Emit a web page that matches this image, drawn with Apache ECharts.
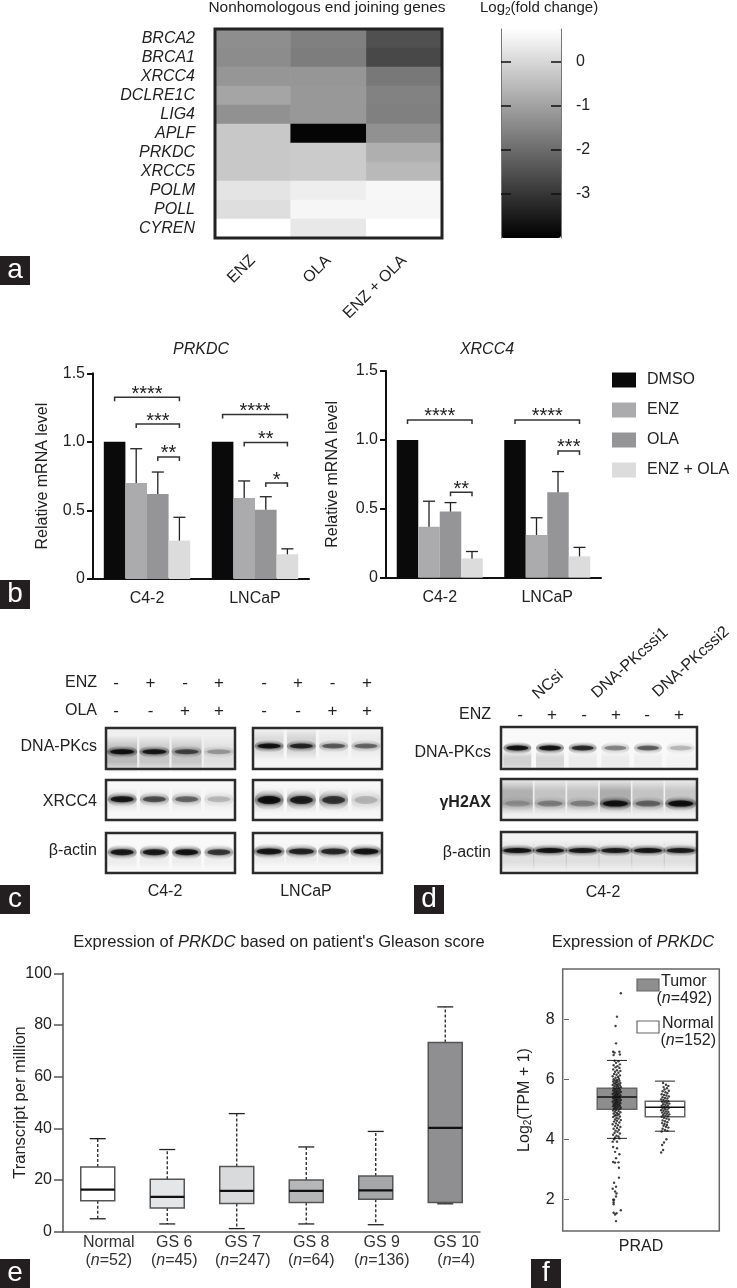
<!DOCTYPE html>
<html><head><meta charset="utf-8">
<style>html,body{margin:0;padding:0;background:#fff}#c{width:737px;height:1288px}</style>
<script src="https://cdn.jsdelivr.net/npm/echarts@6/dist/echarts.min.js"></script>
</head><body><div id="c"></div>
<script>
// ---------- panel a ----------
const nhejGenes = ['BRCA2','BRCA1','XRCC4','DCLRE1C','LIG4','APLF','PRKDC','XRCC5','POLM','POLL','CYREN'];
const nhejTreatments = ['ENZ','OLA','ENZ + OLA'];
const foldEnz = [-1.35,-1.39,-1.21,-0.93,-1.30,-0.27,-0.27,-0.27,0.25,0.14,0.75];
const foldOla = [-1.62,-1.67,-1.21,-1.17,-1.17,-3.91,-0.22,-0.22,0.43,0.58,0.32];
const foldEnzOla = [-2.51,-2.66,-1.76,-1.58,-1.62,-1.30,-0.74,-0.55,0.60,0.58,0.75];
const colorbarTicks = [0,-1,-2,-3];
// ---------- panel b ----------
const cellLines = ['C4-2','LNCaP'];
const treatments = ['DMSO','ENZ','OLA','ENZ + OLA'];
const prkdcMeans = [[1,1],[0.70,0.59],[0.62,0.505],[0.28,0.18]];
const prkdcErrTop = [[null,null],[0.95,0.715],[0.78,0.60],[0.45,0.22]];
const xrcc4Means = [[1,1],[0.37,0.31],[0.48,0.62],[0.14,0.155]];
const xrcc4ErrTop = [[null,null],[0.555,0.435],[0.545,0.77],[0.19,0.22]];
// cell line, first bar, last bar, bracket level, stars
const prkdcSig = [[0,0,3,1.325,'****'],[0,1,3,1.13,'***'],[0,2,3,0.89,'**'],[1,0,3,1.20,'****'],[1,1,3,0.995,'**'],[1,2,3,0.70,'*']];
const xrcc4Sig = [[0,0,3,1.145,'****'],[0,2,3,0.62,'**'],[1,0,3,1.145,'****'],[1,2,3,0.92,'***']];
// ---------- panels c, d (band densities read from the blots) ----------
const cDnaPk42 = [0.98,0.9,0.62,0.28], cDnaPk42Haze = [0.34,0.26,0.26,0.1];
const cXrcc442 = [0.92,0.6,0.5,0.2], cXrcc442Haze = [0.12,0.08,0.07,0.05];
const cActin42 = [0.9,0.9,0.95,0.72], cActin42Haze = [0.07,0.07,0.07,0.06];
const cDnaPkLn = [0.98,0.82,0.55,0.5], cDnaPkLnHaze = [0.16,0.2,0.07,0.07];
const cXrcc4Ln = [0.98,0.85,0.72,0.2], cXrcc4LnHaze = [0.14,0.14,0.12,0.08];
const cActinLn = [0.92,0.82,0.8,0.95], cActinLnHaze = [0.07,0.07,0.07,0.07];
const dDnaPk = [0.98,0.96,0.8,0.4,0.55,0.22], dDnaPkHaze = [0.24,0.2,0.08,0.08,0.06,0.03];
const dH2ax = [0.2,0.32,0.3,0.95,0.45,0.98], dH2axHaze = [0.4,0.28,0.28,0.42,0.28,0.26];
const dActin = [0.95,0.95,0.9,0.88,0.92,0.88], dActinHaze = [0.12,0.12,0.12,0.12,0.12,0.12];
const enzMarks = ['-','+','-','+'], olaMarks = ['-','-','+','+'], siEnzMarks = ['-','+','-','+','-','+'];
// ---------- panel e ----------
const gleasonGroups = ['Normal','GS 6','GS 7','GS 8','GS 9','GS 10'];
const gleasonN = ['52','45','247','64','136','4'];
const gleasonMin = [5,3,1.2,3,2.7,10.8];
const gleasonQ1 = [12,9.2,10.9,11.3,12.6,11.3];
const gleasonMedian = [16.3,13.5,15.8,15.8,16,40.2];
const gleasonQ3 = [25,20.3,25.2,20,21.6,73.2];
const gleasonMax = [36,31.8,45.7,32.8,38.8,87];
// ---------- panel f ----------
const pradGroups = ['Tumor','Normal'];
const pradMin = [4.03,4.27], pradQ1 = [5.0,4.75], pradMedian = [5.41,5.07], pradQ3 = [5.7,5.27], pradMax = [6.63,5.94];
const tumorPoints = [[1.08,8.87],[1.0,8.09],[.97,7.78],[.98,7.2],[.92,6.92],[.95,6.89],[1.05,6.92],[1.06,6.83],[.93,6.81],
[.95,6.62],[1.03,6.6],[.98,6.55],[1.06,6.5],[.93,6.47],[1.01,6.44],[.97,6.4],[1.05,6.38],[.92,6.33],[1.0,6.3],[1.07,6.28],[.96,6.25],[1.03,6.22],[.94,6.18],[.99,6.15],[1.06,6.13],[.91,6.1],[1.02,6.08],[.97,6.05],[1.04,6.02],[.93,6.0],[1.0,5.98],
[.96,5.96],[1.05,5.95],[.92,5.93],[1.01,5.92],[.98,5.9],[1.07,5.88],[.94,5.87],[1.03,5.85],[.97,5.84],[1.0,5.82],[.91,5.81],[1.06,5.8],[.95,5.78],[1.02,5.77],[.99,5.75],[1.08,5.74],[.93,5.72],[1.04,5.71],[.97,5.69],[1.01,5.68],[.95,5.66],[1.06,5.65],[.92,5.63],[.99,5.62],[1.03,5.6],[.96,5.59],[1.08,5.58],[1.0,5.56],[.94,5.55],[1.05,5.54],[.98,5.52],[.91,5.51],[1.02,5.5],[.96,5.48],[1.07,5.47],[1.0,5.46],[.93,5.44],[1.04,5.43],[.97,5.42],[1.01,5.4],[.95,5.39],[1.06,5.38],[.92,5.37],[.99,5.35],[1.03,5.34],[.96,5.33],[1.08,5.31],[1.0,5.3],[.94,5.29],[1.05,5.28],[.98,5.26],[.91,5.25],[1.02,5.24],[.96,5.22],[1.07,5.21],[1.0,5.2],[.93,5.18],[1.04,5.17],[.97,5.16],[1.01,5.14],[.95,5.13],[1.06,5.12],[.92,5.1],[.99,5.09],[1.03,5.08],[.96,5.06],[1.08,5.05],[1.0,5.03],[.94,5.02],[1.05,5.0],
[.98,4.98],[.92,4.96],[1.03,4.94],[.96,4.92],[1.07,4.9],[1.0,4.88],[.93,4.86],[1.04,4.84],[.97,4.82],[1.01,4.8],[.95,4.78],[1.06,4.76],[.92,4.74],[.99,4.72],[1.03,4.69],[.96,4.66],[1.08,4.64],[1.0,4.62],[.94,4.59],[1.05,4.56],[.98,4.53],[.91,4.5],[1.02,4.47],[.96,4.44],[1.07,4.41],[1.0,4.38],[.93,4.35],[1.04,4.32],[.97,4.29],[1.01,4.25],[.95,4.22],[1.06,4.19],[.92,4.15],[.99,4.12],[1.03,4.09],[.96,4.06],[1.05,4.03],[.94,4.0],
[.91,3.92],[1.0,3.92],[.92,3.74],[1.0,3.7],[.96,3.58],[1.05,3.5],[.98,3.37],[.92,3.24],[1.03,3.23],[.96,3.22],[1.04,3.05],[1.04,2.72],[.94,2.55],[.98,2.42],[.91,2.35],[.96,2.26],[.99,2.19],[.98,2.09],[.92,1.98],[.94,1.98],[.93,1.9],[.93,1.83],[.93,1.55],[.99,1.53],[.96,1.49],[1.08,1.63],[.98,1.27]];
const normalPoints = [[1.96,5.88],[2.02,5.82],[2.07,5.78],[1.97,5.74],[2.04,5.7],[1.99,5.66],[2.08,5.62],[1.95,5.6],[2.01,5.57],[2.05,5.54],[1.93,5.5],[1.98,5.48],[2.03,5.46],[2.08,5.43],[1.95,5.4],[2.0,5.38],[2.05,5.36],[1.92,5.33],[1.97,5.31],[2.02,5.29],[2.07,5.27],[1.94,5.25],[1.99,5.23],[2.04,5.21],[2.09,5.19],[1.96,5.17],[2.01,5.15],[2.06,5.13],[1.93,5.11],[1.98,5.09],[2.03,5.07],[2.08,5.05],[1.95,5.03],[2.0,5.01],[2.05,4.99],[1.92,4.97],[1.97,4.95],[2.02,4.93],[2.07,4.91],[1.94,4.89],[1.99,4.87],[2.04,4.85],[2.09,4.83],[1.96,4.81],[2.01,4.79],[2.06,4.77],[1.93,4.75],[1.98,4.72],[2.03,4.69],[2.08,4.66],[1.95,4.63],[2.0,4.6],[2.05,4.57],[1.94,4.54],[1.99,4.51],[2.04,4.48],[1.97,4.45],[2.02,4.42],[2.07,4.39],[1.95,4.35],[2.0,4.31],[2.05,4.28],[1.93,4.26],[2.03,4.0],[1.98,3.89],[1.94,3.81],[1.96,3.64],[1.92,3.56]];

const TXT = '#222';
const FF = '"Liberation Sans", Arial, sans-serif';
const grids=[], xAxes=[], yAxes=[], series=[], graphics=[];
function addGrid(l,t,w,h,extra){ grids.push(Object.assign({left:l,top:t,width:w,height:h,containLabel:false,outerBoundsMode:'none'},extra||{})); return grids.length-1; }
function label(x,y,text,o){ o=o||{};
  graphics.push({type:'text',x:x,y:y,rotation:o.rot||0,z:20,style:{text:text,align:o.align||'center',verticalAlign:'middle',
    font:(o.style||'')+' '+(o.weight||'')+' '+(o.size||16)+'px '+FF,fill:o.color||TXT,rich:o.rich}});
}
function letter(x,y,ch){
  graphics.push({type:'rect',x:x,y:y,z:20,shape:{width:30,height:29},style:{fill:'#231f20'}});
  graphics.push({type:'text',x:x+15,y:y+14,z:21,style:{text:ch,align:'center',verticalAlign:'middle',font:'28px '+FF,fill:'#fff'}});
}

// ---- a: heatmap
const g0 = addGrid(215,29,227,209);
xAxes.push({gridIndex:g0,type:'category',data:nhejTreatments,axisLine:{show:false},axisTick:{show:false},
  axisLabel:{rotate:45,margin:20,fontSize:16,color:TXT,fontFamily:FF,interval:0},splitArea:{show:false}});
yAxes.push({gridIndex:g0,type:'category',data:nhejGenes,inverse:true,axisLine:{show:false},axisTick:{show:false},
  axisLabel:{fontStyle:'italic',fontSize:16,margin:20,color:TXT,fontFamily:FF,interval:0}});
const heatData=[];
[foldEnz,foldOla,foldEnzOla].forEach((col,c)=>col.forEach((v,r)=>heatData.push([c,r,v])));
series.push({type:'heatmap',xAxisIndex:xAxes.length-1,yAxisIndex:yAxes.length-1,data:heatData,z:2,emphasis:{disabled:true}});
graphics.push({type:'rect',x:215,y:29,z:15,shape:{width:227,height:209},style:{fill:'none',stroke:'#222',lineWidth:3}});
// colour bar axis
const g1 = addGrid(501,29,60,209);
xAxes.push({gridIndex:g1,type:'value',show:false,min:0,max:1});
[['left',false],['right',true]].forEach(([pos,lab])=>{
  yAxes.push({gridIndex:g1,type:'value',position:pos,min:-4,max:0.75,z:10,splitLine:{show:false},
    axisLine:{show:true,lineStyle:{color:'#777',width:1}},
    axisTick:{inside:true,length:10,lineStyle:{color:'#111',width:1.5},customValues:colorbarTicks},
    axisLabel:{show:lab,inside:false,margin:15,fontSize:16,color:TXT,fontFamily:FF,customValues:colorbarTicks}});
});
series.push({type:'scatter',xAxisIndex:xAxes.length-1,yAxisIndex:yAxes.length-2,data:[],silent:true});

// ---- b: bars
const barColors=['#0a0a0a','#ababae','#959597','#dcdcdc'];
function barPanel(l,t,w,h,means,errs,sig,first,nameGap){
  const g=addGrid(l,t,w,h);
  xAxes.push({gridIndex:g,type:'category',data:cellLines,
    axisLine:{lineStyle:{color:'#111',width:2}},axisTick:{alignWithLabel:true,length:6,lineStyle:{color:'#111',width:2}},
    axisLabel:{fontSize:16,color:TXT,fontFamily:FF,margin:12}});
  yAxes.push({gridIndex:g,type:'value',min:0,max:1.5,interval:0.5,splitLine:{show:false},
    name:'Relative mRNA level',nameLocation:'middle',nameGap:nameGap,nameMoveOverlap:false,nameTextStyle:{fontSize:16,color:TXT,fontFamily:FF},
    axisLine:{show:true,lineStyle:{color:'#111',width:2}},axisTick:{show:true,length:6,lineStyle:{color:'#111',width:2}},
    axisLabel:{fontSize:16,color:TXT,fontFamily:FF,margin:8,formatter:v=>v===0?'0':v.toFixed(1)}});
  const xi=xAxes.length-1, yi=yAxes.length-1;
  treatments.forEach((name,i)=>series.push({type:'bar',name:first?name:name+' ',xAxisIndex:xi,yAxisIndex:yi,data:means[i],
    barGap:0,barCategoryGap:'20%',itemStyle:{color:barColors[i]},z:2}));
  const off=(api,bar)=>(bar-1.5)*0.2*api.size([1,0])[0];
  const errData=[];
  errs.forEach((row,s)=>row.forEach((top,c)=>{ if(top!=null) errData.push([c,s,means[s][c],top]); }));
  series.push({type:'custom',xAxisIndex:xi,yAxisIndex:yi,data:errData,z:3,encode:{x:0,y:3},clip:false,silent:true,
    renderItem:(p,api)=>{
      const c=api.value(0),o=off(api,api.value(1));
      const a=api.coord([c,api.value(2)]),b=api.coord([c,api.value(3)]);
      const x=a[0]+o, st={stroke:'#222',lineWidth:1.3};
      return {type:'group',children:[
        {type:'line',shape:{x1:x,y1:a[1],x2:x,y2:b[1]},style:st},
        {type:'line',shape:{x1:x-6,y1:b[1],x2:x+6,y2:b[1]},style:st}]};
    }});
  series.push({type:'custom',xAxisIndex:xi,yAxisIndex:yi,data:sig,z:4,encode:{x:0,y:3},clip:false,silent:true,
    dimensions:['c','from','to','level',{name:'stars',type:'ordinal'}],
    renderItem:(p,api)=>{
      const i=p.dataIndex,c=sig[i][0];
      const y=api.coord([c,sig[i][3]])[1], cx=api.coord([c,0])[0];
      const x1=cx+off(api,sig[i][1]), x2=cx+off(api,sig[i][2]);
      const st={stroke:'#333',lineWidth:1.5,fill:'none'};
      return {type:'group',children:[
        {type:'polyline',shape:{points:[[x1,y+4],[x1,y],[x2,y],[x2,y+4]]},style:st},
        {type:'text',style:{text:sig[i][4],x:(x1+x2)/2,y:y-3,align:'center',verticalAlign:'middle',font:'20px '+FF,fill:'#222'}}]};
    }});
}
barPanel(93,373.3,216,205.7,prkdcMeans,prkdcErrTop,prkdcSig,true,42);
barPanel(386,371,215,206.7,xrcc4Means,xrcc4ErrTop,xrcc4Sig,false,45);

// ---- c, d: blots
const G=(stops)=>new echarts.graphic.LinearGradient(0,0,0,1,stops);
function blot(l,t,w,h,bg,density,haze,migration,hazeMig,bandW,bandH,hazeH){
  const g=addGrid(l,t,w,h,{show:true,backgroundColor:bg,borderColor:'#2b2b2b',borderWidth:2.5});
  xAxes.push({gridIndex:g,type:'category',show:false,data:density.map((_,i)=>i)});
  yAxes.push({gridIndex:g,type:'value',show:false,min:0,max:1});
  const xi=xAxes.length-1, yi=yAxes.length-1;
  // smear behind each lane: fades out vertically
  series.push({type:'scatter',xAxisIndex:xi,yAxisIndex:yi,z:2,silent:true,symbol:'rect',clip:true,
    data:haze.map((a,i)=>({value:[i,hazeMig],symbolSize:[bandW+6,hazeH],
      itemStyle:{color:G([{offset:0,color:'rgba(40,40,40,0)'},{offset:0.35,color:'rgba(40,40,40,'+a+')'},{offset:0.7,color:'rgba(40,40,40,'+a+')'},{offset:1,color:'rgba(40,40,40,0)'}])}}))});
  // soft halo of the band
  series.push({type:'scatter',xAxisIndex:xi,yAxisIndex:yi,z:3,silent:true,symbol:'circle',clip:true,
    data:density.map((a,i)=>({value:[i,migration],symbolSize:[bandW+6,bandH*2.6],
      itemStyle:{color:G([{offset:0,color:'rgba(10,10,10,0)'},{offset:0.5,color:'rgba(10,10,10,'+(a*0.55)+')'},{offset:1,color:'rgba(10,10,10,0)'}])}}))});
  // core of the band
  series.push({type:'scatter',xAxisIndex:xi,yAxisIndex:yi,z:4,silent:true,symbol:'circle',clip:true,
    data:density.map((a,i)=>({value:[i,migration],symbolSize:[bandW,bandH],
      itemStyle:{color:'rgba(5,5,5,'+a+')',shadowBlur:3,shadowColor:'rgba(5,5,5,'+a+')'}}))});
}
blot(106,728,129,41,'#f0f0f0',cDnaPk42,cDnaPk42Haze,0.42,0.36,24,5,38);
blot(106,780,129,40,'#f7f7f7',cXrcc442,cXrcc442Haze,0.52,0.5,23,6,24);
blot(106,833,129,40,'#f9f9f9',cActin42,cActin42Haze,0.52,0.4,23,6,26);
blot(253,728,129,41,'#f6f6f6',cDnaPkLn,cDnaPkLnHaze,0.56,0.62,23,5,34);
blot(253,780,129,40,'#f7f7f7',cXrcc4Ln,cXrcc4LnHaze,0.5,0.5,23,8,26);
blot(253,833,129,40,'#f8f8f8',cActinLn,cActinLnHaze,0.54,0.45,25,6,24);
blot(501,727,196,42,'#f9f9f9',dDnaPk,dDnaPkHaze,0.5,0.2,22,5,22);
blot(501,779,196,41,'#f0f0f0',dH2ax,dH2axHaze,0.4,0.58,25,6,36);
blot(501,832,196,41,'#f3f3f3',dActin,dActinHaze,0.55,0.42,28,5,32);

// ---- e: box plots
const gleasonFills=['#ffffff','#e4e6e8','#d8dadc','#b5b7b9','#a5a7a9','#8f8f91'];
function boxRender(boxW,capW,lw,stem,colors,medW,border){
  return (p,api)=>{
    const x=api.value(0), px=api.coord([x,0])[0];
    const Y=d=>api.coord([x,api.value(d)])[1];
    const [mn,q1,md,q3,mx]=[1,2,3,4,5].map(Y);
    const st={stroke:'#222',lineWidth:lw};
    const kids=[];
    if(stem){ const ds={stroke:'#222',lineWidth:lw,lineDash:[3,2]};
      kids.push({type:'line',shape:{x1:px,y1:q3,x2:px,y2:mx},style:ds},{type:'line',shape:{x1:px,y1:q1,x2:px,y2:mn},style:ds}); }
    kids.push({type:'line',shape:{x1:px-capW/2,y1:mx,x2:px+capW/2,y2:mx},style:st},
      {type:'line',shape:{x1:px-capW/2,y1:mn,x2:px+capW/2,y2:mn},style:st},
      {type:'rect',shape:{x:px-boxW/2,y:q3,width:boxW,height:q1-q3},style:{fill:colors[p.dataIndex],stroke:border,lineWidth:1.5}},
      {type:'line',shape:{x1:px-boxW/2,y1:md,x2:px+boxW/2,y2:md},style:{stroke:'#111',lineWidth:medW}});
    return {type:'group',children:kids};
  };
}
const gE=addGrid(63,973.3,417,258.4);
xAxes.push({gridIndex:gE,type:'category',data:gleasonGroups.map((g,i)=>({value:g+'\n(n='+gleasonN[i]+')',
    textStyle:{padding:[0,0,0,[22,14,12,10,12,22][i]]}})),
  axisLine:{lineStyle:{color:'#555',width:1.5}},axisTick:{show:false},
  axisLabel:{interval:0,margin:2,fontFamily:FF,color:'#333',lineHeight:18,fontSize:16,
    formatter:v=>{const a=v.split('\n');const n=a[1].replace('(n=','').replace(')','');return a[0]+'\n({i|n}='+n+')';},
    rich:{i:{fontStyle:'italic',fontSize:16,fontFamily:FF,color:'#333',lineHeight:18}}}});
yAxes.push({gridIndex:gE,type:'value',min:0,max:100,interval:20,splitLine:{show:false},
  name:'Transcript per million',nameLocation:'middle',nameGap:34,nameMoveOverlap:false,nameTextStyle:{fontSize:16.5,color:TXT,fontFamily:FF},
  axisLine:{show:true,lineStyle:{color:'#555',width:1.5}},axisTick:{show:true,length:9,lineStyle:{color:'#555',width:1.5}},
  axisLabel:{fontSize:16,color:TXT,fontFamily:FF,margin:11}});
series.push({type:'custom',xAxisIndex:xAxes.length-1,yAxisIndex:yAxes.length-1,silent:true,z:2,
  data:gleasonGroups.map((g,i)=>[i,gleasonMin[i],gleasonQ1[i],gleasonMedian[i],gleasonQ3[i],gleasonMax[i]]),
  encode:{x:0,y:[1,2,3,4,5]},renderItem:boxRender(34,16,1.3,true,gleasonFills,2.2,'#555')});

// ---- f: box + points
const gF=addGrid(562.7,969,156.6,262,{show:true,borderColor:'#666',borderWidth:1.5});
xAxes.push({gridIndex:gF,type:'category',data:['PRAD'],axisLine:{show:false},
  axisTick:{alignWithLabel:true,length:4,lineStyle:{color:'#666'}},
  axisLabel:{fontSize:16,color:TXT,fontFamily:FF,margin:8}});
const xCat=xAxes.length-1;
xAxes.push({gridIndex:gF,type:'value',show:false,min:-0.131,max:3.131});
const xVal=xAxes.length-1;
yAxes.push({gridIndex:gF,type:'value',min:0.94,max:9.68,splitLine:{show:false},
  name:'Log{s|2}(TPM + 1)',nameLocation:'middle',nameGap:29,nameMoveOverlap:false,
  nameTextStyle:{fontSize:16,color:TXT,fontFamily:FF,rich:{s:{fontSize:10,color:TXT,fontFamily:FF,verticalAlign:'bottom',padding:[8,0,0,0]}}},
  axisLine:{show:false},axisTick:{show:true,length:5,lineStyle:{color:'#666',width:1},customValues:[2,4,6,8]},
  axisLabel:{fontSize:16,color:TXT,fontFamily:FF,margin:8,customValues:[2,4,6,8]}});
const yF=yAxes.length-1;
series.push({type:'scatter',xAxisIndex:xCat,yAxisIndex:yF,data:[],silent:true});
series.push({type:'custom',xAxisIndex:xVal,yAxisIndex:yF,silent:true,z:2,
  data:pradGroups.map((g,i)=>[i+1,pradMin[i],pradQ1[i],pradMedian[i],pradQ3[i],pradMax[i]]),
  encode:{x:0,y:[1,2,3,4,5]},renderItem:boxRender(39.5,20,1,false,['#8e8e8e','#ffffff'],1.6,'#666')});
series.push({type:'scatter',name:'Tumor samples',xAxisIndex:xVal,yAxisIndex:yF,data:tumorPoints,symbolSize:2.4,z:3,silent:true,itemStyle:{color:'#111'}});
series.push({type:'scatter',name:'Normal samples',xAxisIndex:xVal,yAxisIndex:yF,data:normalPoints,symbolSize:2.4,z:3,silent:true,itemStyle:{color:'#111'}});

// ---- text and keys
const ital={i:{font:'italic 16.5px '+FF,fill:TXT}};
const ital16={i:{font:'italic 16px '+FF,fill:TXT}};
label(327,8,'Nonhomologous end joining genes',{size:15.4});
label(480,8,'Log{s|2}(fold change)',{size:15,align:'left',rich:{s:{font:'10px '+FF,fill:TXT,verticalAlign:'bottom',padding:[8,0,0,0]}}});
label(201,350,'PRKDC',{style:'italic'});
label(487,350,'XRCC4',{style:'italic'});
label(279,942,'Expression of {i|PRKDC} based on patient\'s Gleason score',{rich:ital,size:16.5});
label(633,942,'Expression of {i|PRKDC}',{rich:ital,size:16.5});
// c
label(97,683,'ENZ',{align:'right'}); label(97,711,'OLA',{align:'right'});
[116,150.5,185,219].forEach((x,i)=>{label(x,683,enzMarks[i],{size:17});label(x,711,olaMarks[i],{size:17});});
[264,298,332.5,367].forEach((x,i)=>{label(x,683,enzMarks[i],{size:17});label(x,711,olaMarks[i],{size:17});});
label(97,747,'DNA-PKcs',{align:'right'}); label(97,802,'XRCC4',{align:'right'}); label(97,851,'\u03b2-actin',{align:'right'});
label(165,892,'C4-2'); label(306,892,'LNCaP',{weight:'500'});
// d
label(491,715,'ENZ',{align:'right'});
[520,552,584,616,647,679].forEach((x,i)=>label(x,715,siEnzMarks[i],{size:17}));
label(491,753,'DNA-PKcs',{align:'right'}); label(491,803,'\u03b3H2AX',{align:'right',weight:'bold'}); label(491,853,'\u03b2-actin',{align:'right'});
label(603,893,'C4-2');
const tilt=42*Math.PI/180;
label(548,685,'NCsi',{rot:tilt}); label(630,663,'DNA-PKcssi1',{rot:tilt}); label(691,662,'DNA-PKcssi2',{rot:tilt});
// f legend
graphics.push({type:'rect',x:637,y:979,z:15,shape:{width:22,height:12},style:{fill:'#8e8e8e',stroke:'#666',lineWidth:1.2}});
graphics.push({type:'rect',x:637,y:1021,z:15,shape:{width:22,height:12},style:{fill:'#fff',stroke:'#666',lineWidth:1.2}});
label(661,982,'Tumor',{align:'left'}); label(712,999,'({i|n}=492)',{align:'right',rich:ital16});
label(662,1024,'Normal',{align:'left'}); label(716,1041,'({i|n}=152)',{align:'right',rich:ital16});
// letters
letter(0,256,'a'); letter(0,580,'b'); letter(0,885,'c'); letter(414,885,'d'); letter(0,1259,'e'); letter(531,1259,'f');

const chart=echarts.init(document.getElementById('c'));
chart.setOption({
  animation:false,backgroundColor:'#fff',textStyle:{fontFamily:FF},
  grid:grids,xAxis:xAxes,yAxis:yAxes,series:series,graphic:graphics,
  legend:{orient:'vertical',left:612,top:372,padding:0,itemWidth:24,itemHeight:15,itemGap:14,icon:'rect',data:treatments,
    textStyle:{fontSize:16,color:TXT,fontFamily:FF,padding:[0,0,0,6]},selectedMode:false},
  visualMap:{type:'continuous',seriesIndex:0,min:-4,max:0.75,left:501,top:29,itemWidth:60,itemHeight:209,
    calculable:false,hoverLink:false,inRange:{color:['#000000','#ffffff']},text:null,textStyle:{fontSize:0},padding:0,z:1}
});
</script></body></html>
